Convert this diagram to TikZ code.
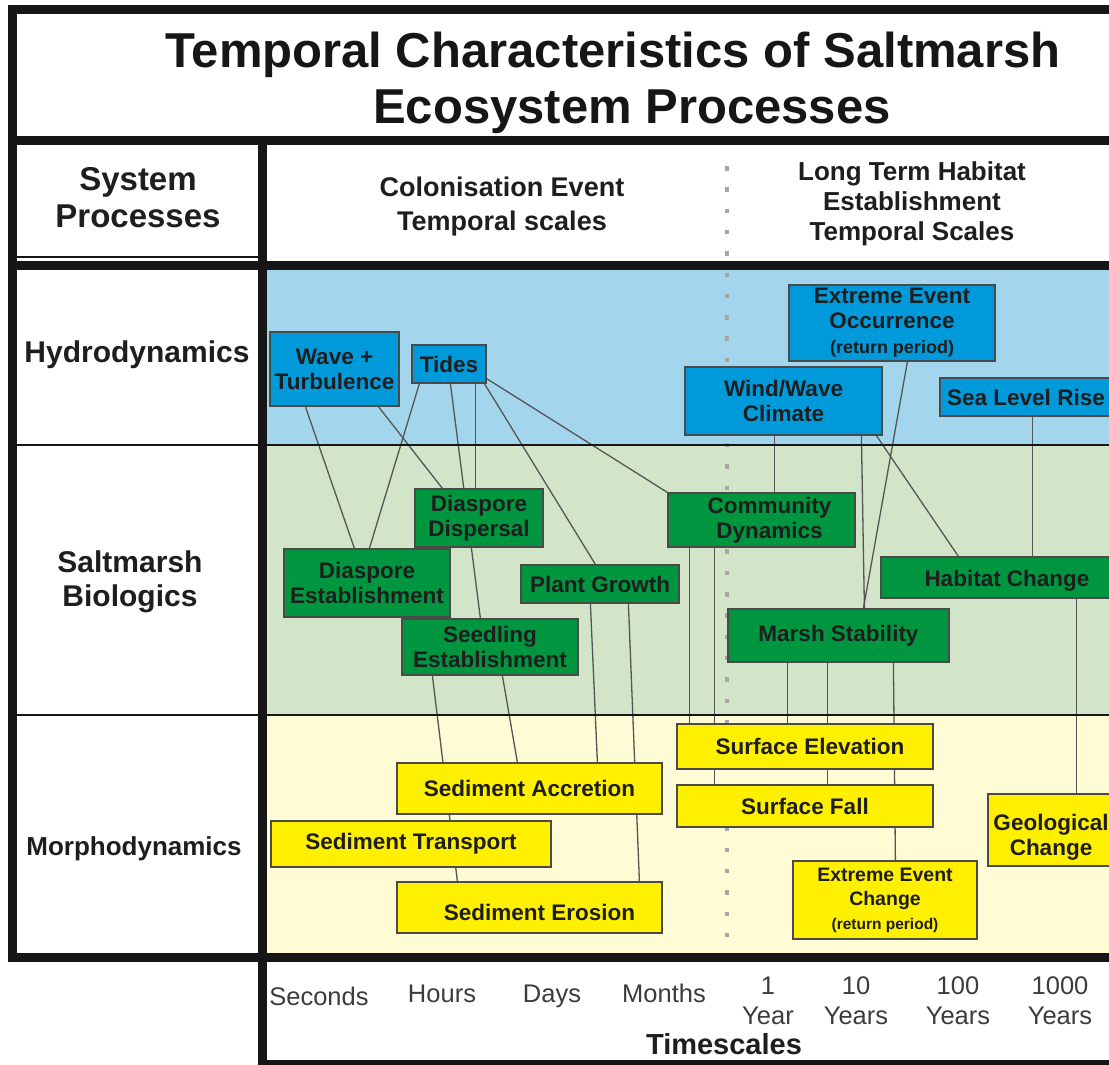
\documentclass[tikz,border=0pt]{standalone}
\usepackage{fontspec}
\setmainfont{Liberation Sans}
\usetikzlibrary{calc}
\pgfdeclarelayer{back}
\pgfdeclarelayer{links}
\pgfsetlayers{back,links,main}
\definecolor{hband}{HTML}{A3D6ED}
\definecolor{bband}{HTML}{D3E5C9}
\definecolor{mband}{HTML}{FFFBD4}
\definecolor{hboxc}{HTML}{009ADA}
\definecolor{bboxc}{HTML}{009640}
\definecolor{mboxc}{HTML}{FFF000}
\definecolor{boxline}{HTML}{4A4A4A}
\definecolor{boxtext}{HTML}{1E1E1E}
\definecolor{connc}{HTML}{555555}
\definecolor{dotc}{HTML}{A9A5A2}
\definecolor{tickc}{HTML}{3C3C3C}
\definecolor{frame}{HTML}{161616}
\tikzset{
  boxbase/.style={draw=boxline, line width=1.2pt, inner sep=0pt, align=center, text=boxtext, font=\bfseries\fontsize{22.5}{25}\selectfont},
  hnode/.style={boxbase, fill=hboxc},
  bnode/.style={boxbase, fill=bboxc},
  mnode/.style={boxbase, fill=mboxc},
  conn/.style={draw=connc, line width=1.3pt},
  heavy/.style={line width=9pt, draw=frame},
  sepline/.style={line width=2.5pt, draw=frame},
  rowlab/.style={align=center, text=boxtext},
  tick/.style={font=\fontsize{25.5}{30}\selectfont, align=center, text=tickc},
}
\begin{document}
\begin{tikzpicture}[x=1pt,y=-1pt]
\useasboundingbox (0,0) rectangle (1109,1065);

% ---------- background bands and dotted divider ----------
\begin{pgfonlayer}{back}
\fill[white] (0,0) rectangle (1109,1065);
\fill[hband] (262,266) rectangle (1109,445);
\fill[bband] (262,445) rectangle (1109,715);
\fill[mband] (262,715) rectangle (1109,957);
\draw[dotc, line width=4.5pt, dash pattern=on 4.5pt off 16.8pt] (727,166) -- (727,950);
\end{pgfonlayer}

% ---------- frame ----------
\draw[heavy] (8,10) -- (1109,10);
\draw[heavy] (12.5,5) -- (12.5,962);
\draw[heavy] (8,140) -- (1109,140);
\draw[heavy] (262,136) -- (262,1064);
\draw[line width=2pt, draw=frame] (17,257) -- (258,257);
\draw[heavy] (8,265) -- (1109,265);
\draw[heavy] (8,957) -- (1109,957);
\draw[line width=5pt, draw=frame] (258,1062) -- (1109,1062);
\draw[sepline] (17,445) -- (1109,445);
\draw[sepline] (17,715) -- (1109,715);

% ---------- title & headers ----------
\node[font=\bfseries\fontsize{49}{54}\selectfont, text=frame, anchor=base] (title1) at (613,68) {Temporal Characteristics of Saltmarsh};
\node[font=\bfseries\fontsize{49}{54}\selectfont, text=frame, anchor=base] (title2) at (632,123) {Ecosystem Processes};
\node[rowlab, font=\bfseries\fontsize{33}{37}\selectfont] (sysproc) at (138,198) {System\\Processes};
\node[rowlab, font=\bfseries\fontsize{27}{34}\selectfont] (colon) at (502,207) {Colonisation Event\\Temporal scales};
\node[rowlab, font=\bfseries\fontsize{26}{30}\selectfont] (longterm) at (912,204) {Long Term Habitat\\Establishment\\Temporal Scales};

% ---------- row labels ----------
\node[rowlab, font=\bfseries\fontsize{30}{34}\selectfont] (hydro) at (137,355) {Hydrodynamics};
\node[rowlab, font=\bfseries\fontsize{30}{34}\selectfont] (bio) at (130,582) {Saltmarsh\\Biologics};
\node[rowlab, font=\bfseries\fontsize{26}{30}\selectfont] (morph) at (134,849) {Morphodynamics};

% ---------- hydrodynamics ----------
\node[hnode, minimum width=129pt, minimum height=74pt] (wave) at (334.5,369) {Wave +\\Turbulence};
\node[hnode, minimum width=74pt, minimum height=38pt] (tides) at (449,364) {Tides};
\node[hnode, minimum width=206pt, minimum height=76pt] (eeo) at (892,323) {Extreme Event\\Occurrence\\{\fontsize{18}{20}\selectfont(return period)}};
\node[hnode, minimum width=197pt, minimum height=68pt] (wind) at (783.5,401) {Wind/Wave\\Climate};
\node[hnode, minimum width=172pt, minimum height=38pt] (slr) at (1026,397) {Sea Level Rise};

% ---------- biologics ----------
\node[bnode, minimum width=128pt, minimum height=58pt] (dd) at (479,518) {Diaspore\\Dispersal};
\node[bnode, minimum width=187pt, minimum height=54pt] (cd) at (761.5,520) {\hspace*{16pt}Community\\\hspace*{16pt}Dynamics};
\node[bnode, minimum width=166pt, minimum height=68pt] (de) at (367,583) {Diaspore\\Establishment};
\node[bnode, minimum width=158pt, minimum height=38pt] (pg) at (600,584) {Plant Growth};
\node[bnode, minimum width=252pt, minimum height=41pt] (hc) at (1007,577.5) {\rule{0pt}{22pt}Habitat Change};
\node[bnode, minimum width=176pt, minimum height=56pt] (se) at (490,647) {Seedling\\Establishment};
\node[bnode, minimum width=221pt, minimum height=53pt] (ms) at (838.5,635.5) {Marsh Stability};

% ---------- morphodynamics ----------
\node[mnode, minimum width=256pt, minimum height=45pt] (sel) at (805,746.5) {\hspace*{10pt}Surface Elevation};
\node[mnode, minimum width=265pt, minimum height=51pt] (sa) at (529.5,788.5) {Sediment Accretion};
\node[mnode, minimum width=256pt, minimum height=42pt] (sf) at (805,806) {Surface Fall};
\node[mnode, minimum width=126pt, minimum height=72pt] (gc) at (1051,830) {\rule{0pt}{30pt}Geological\\Change};
\node[mnode, minimum width=280pt, minimum height=46pt] (st) at (411,844) {Sediment Transport};
\node[mnode, minimum width=184pt, minimum height=78pt, font=\bfseries\fontsize{19.5}{24}\selectfont] (eec) at (885,900) {Extreme Event\\Change\\{\fontsize{15.5}{20}\selectfont(return period)}};
\node[mnode, minimum width=265pt, minimum height=51pt] (ser) at (529.5,907.5) {\rule{0pt}{27pt}\hspace*{20pt}Sediment Erosion};

% ---------- connectors ----------
\begin{pgfonlayer}{links}
\draw[conn] ([xshift=36pt]wave.south west) -- ([xshift=71pt]de.north west);
\draw[conn] ([xshift=109pt]wave.south west) -- ([xshift=28pt]dd.north west);
\draw[conn] ([xshift=8pt]tides.south west) -- ([xshift=86pt]de.north west);
\draw[conn] ([xshift=39pt]tides.south west) -- ([xshift=79pt]se.north west);
\draw[conn] ([xshift=64pt]tides.south west) -- ([xshift=61pt]dd.north west);
\draw[conn] ([xshift=73pt]tides.south west) -- ([xshift=75pt]pg.north west);
\draw[conn] ([yshift=5pt]tides.south east) -- (cd.north west);
\draw[conn] ([xshift=90pt]wind.south west) -- ([xshift=107pt]cd.north west);
\draw[conn] ([xshift=177pt]wind.south west) -- ([xshift=137pt]ms.north west);
\draw[conn] ([xshift=192pt]wind.south west) -- ([xshift=78pt]hc.north west);
\draw[conn] ([xshift=119pt]eeo.south west) -- ([xshift=136pt]ms.north west);
\draw[conn] ([xshift=93pt]slr.south west) -- ([xshift=152pt]hc.north west);
\draw[conn] ([xshift=101pt]se.south west) -- ([xshift=121pt]sa.north west);
\draw[conn] ([xshift=31pt]se.south west) -- ([xshift=61pt]ser.north west);
\draw[conn] ([xshift=70pt]pg.south west) -- ([xshift=201pt]sa.north west);
\draw[conn] ([xshift=108pt]pg.south west) -- ([xshift=243pt]ser.north west);
\draw[conn] ([xshift=22pt]cd.south west) -- ([xshift=13pt]sel.north west);
\draw[conn] ([xshift=47pt]cd.south west) -- ([xshift=38pt]sf.north west);
\draw[conn] ([xshift=60pt]ms.south west) -- ([xshift=111pt]sel.north west);
\draw[conn] ([xshift=100pt]ms.south west) -- ([xshift=151pt]sf.north west);
\draw[conn] ([xshift=166pt]ms.south west) -- ([xshift=103pt]eec.north west);
\draw[conn] ([xshift=196pt]hc.south west) -- ([xshift=89pt]gc.north west);
\end{pgfonlayer}

% ---------- timescale axis ----------
\node[tick] (tsec) at (319,996) {Seconds};
\node[tick] (thr) at (442,994) {Hours};
\node[tick] (tday) at (552,996) {Days};
\node[tick] (tmon) at (664,993) {Months};
\node[tick] (t1) at (768,1001) {1\\Year};
\node[tick] (t10) at (856,1001) {10\\Years};
\node[tick] (t100) at (958,1001) {100\\Years};
\node[tick] (t1000) at (1060,1001) {1000\\Years};
\node[font=\bfseries\fontsize{29}{32}\selectfont, text=boxtext] (tscale) at (724,1044) {Timescales};
\end{tikzpicture}
\end{document}
